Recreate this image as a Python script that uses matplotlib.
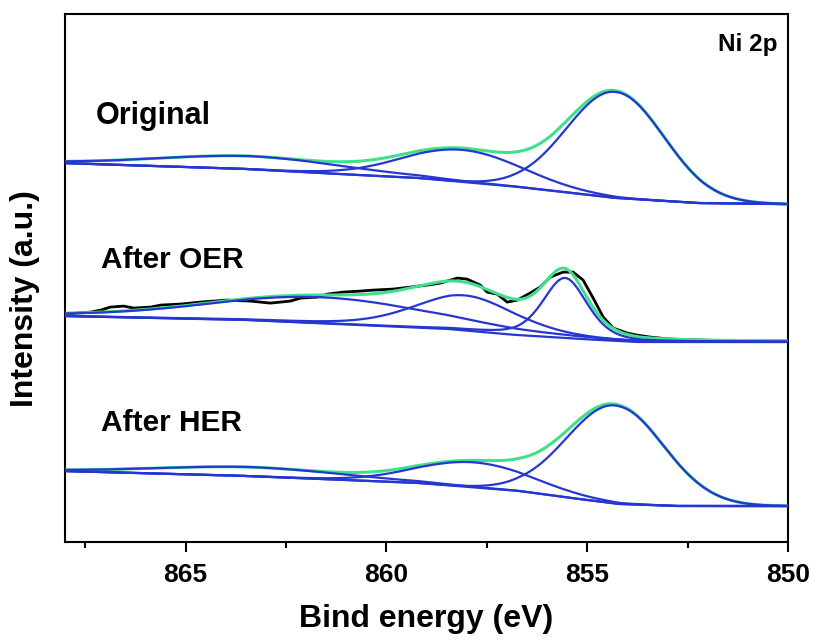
import numpy as np
import matplotlib
matplotlib.use('Agg')
import matplotlib.pyplot as plt
from matplotlib.ticker import MultipleLocator

plt.rcParams['font.family'] = ['Liberation Sans', 'DejaVu Sans']
plt.rcParams['font.weight'] = 'bold'

# energy grid (eV)
energia = np.linspace(850, 868, 721)

# Shirley-type background, points (eV, intensidade)
fundo_x = [850.0, 852.19, 854.25, 856.67, 859.15, 860.65, 863.38, 867.99]
fundo_orig = [339, 340, 345, 356, 365, 368, 374, 380]
fundo_oer_x = [850.0, 853.68, 854.68, 856.74, 858.41, 863.38, 867.99]
fundo_oer = [201, 201, 203, 208, 214, 223, 227]
fundo_her_x = [850.0, 852.69, 854.18, 855.0, 856.67, 859.15, 863.38, 867.99]
fundo_her = [37, 37, 39, 43, 52, 60, 67, 72]

# componentes ajustados: centro (eV), altura, FWHM (eV), fracao lorentziana
orig_centro = [854.3, 858.1, 863.35]
orig_altura = [106, 32, 13]
orig_fwhm = [2.85, 3.5, 5.5]
orig_eta = [0.0, 0.0, 0.0]

oer_centro = [855.55, 858.05, 861.6]
oer_altura = [60, 35, 26]
oer_fwhm = [1.3, 3.0, 6.6]
oer_eta = [0.4, 0.3, 0.2]

her_centro = [854.3, 857.8, 863.35]
her_altura = [98, 25, 9]
her_fwhm = [2.85, 3.4, 5.5]
her_eta = [0.0, 0.0, 0.0]

# dados brutos (preto) do espectro After OER
oer_dados_x = [867.99, 867.74, 867.36, 867.11, 866.87, 866.54, 866.29, 865.87,
               865.62, 865.12, 864.63, 863.96, 863.38, 862.89, 862.39, 862.14,
               861.72, 861.47, 861.07, 860.65, 860.32, 859.83, 859.40, 858.98,
               858.66, 858.23, 857.99, 857.66, 857.49, 857.24, 856.99, 856.74,
               856.42, 856.17, 855.92, 855.60, 855.35, 855.10, 854.85, 854.60,
               854.35, 854.00, 853.76, 853.43, 852.94, 852.19, 851.19, 850.00]
oer_dados_y = [228, 230, 231, 233, 236, 237, 235, 236,
               238, 239, 241, 243, 242, 240, 242, 245,
               246, 249, 251, 252, 253, 254, 256, 258,
               260, 265, 264, 258, 251, 249, 241, 243,
               250, 256, 266, 271, 271, 263, 245, 226,
               215, 210, 208, 206, 204, 203, 202, 202]

rotulos = ['Original', 'After OER', 'After HER']
cor_azul = '#2636d0'
cor_verde = '#3fe08c'


def pico(x, c, h, w, eta):
    '''
    Pseudo-Voigt usado no ajuste
    '''
    u = (x - c) / w
    g = np.exp(-4 * np.log(2) * u**2)
    l = 1 / (1 + 4 * u**2)
    return h * (eta * l + (1 - eta) * g)


def espectro(ax, fx, fy, centros, alturas, larguras, etas):
    '''
    Desenha fundo, componentes e envelope de um espectro
    '''
    fundo = np.interp(energia, fx, fy)
    comps = [pico(energia, c, h, w, e)
             for c, h, w, e in zip(centros, alturas, larguras, etas)]
    envelope = fundo + np.sum(comps, axis=0)
    ax.plot(energia, envelope, color=cor_verde, lw=2.2, zorder=3)
    ax.plot(energia, fundo, color=cor_azul, lw=1.6, zorder=4)
    for comp in comps:
        ax.plot(energia, fundo + comp, color=cor_azul, lw=1.6, zorder=4)


fig = plt.figure(figsize=(8.15, 6.43), dpi=100)
ax = fig.add_axes([0.0798, 0.157, 0.887, 0.821])

ax.plot(oer_dados_x, oer_dados_y, color='black', lw=2.0, zorder=2)
espectro(ax, fundo_x, fundo_orig, orig_centro, orig_altura, orig_fwhm, orig_eta)
espectro(ax, fundo_oer_x, fundo_oer, oer_centro, oer_altura, oer_fwhm, oer_eta)
espectro(ax, fundo_her_x, fundo_her, her_centro, her_altura, her_fwhm, her_eta)

ax.set_xlim(868, 850)
ax.set_ylim(1, 529)
ax.xaxis.set_major_locator(MultipleLocator(5))
ax.xaxis.set_minor_locator(MultipleLocator(2.5))
ax.tick_params(axis='x', which='major', direction='out', length=7, width=1.5,
               labelsize=19, pad=8)
ax.tick_params(axis='x', which='minor', direction='out', length=4, width=1.5)
ax.set_yticks([])
for lado in ax.spines.values():
    lado.set_linewidth(1.5)

ax.set_xlabel('Bind energy (eV)', fontsize=23, fontweight='bold', labelpad=12)
ax.set_ylabel('Intensity (a.u.)', fontsize=23, fontweight='bold')
ax.yaxis.set_label_coords(-0.034, 0.462)

ax.text(0.043, 0.807, rotulos[0], transform=ax.transAxes, fontsize=22,
        fontweight='bold', va='center')
ax.text(0.05, 0.534, rotulos[1], transform=ax.transAxes, fontsize=21.5,
        fontweight='bold', va='center')
ax.text(0.05, 0.225, rotulos[2], transform=ax.transAxes, fontsize=21.5,
        fontweight='bold', va='center')
ax.text(0.903, 0.943, 'Ni 2p', transform=ax.transAxes, fontsize=17.5,
        fontweight='bold', va='center')

fig.savefig('out.png', dpi=100)
